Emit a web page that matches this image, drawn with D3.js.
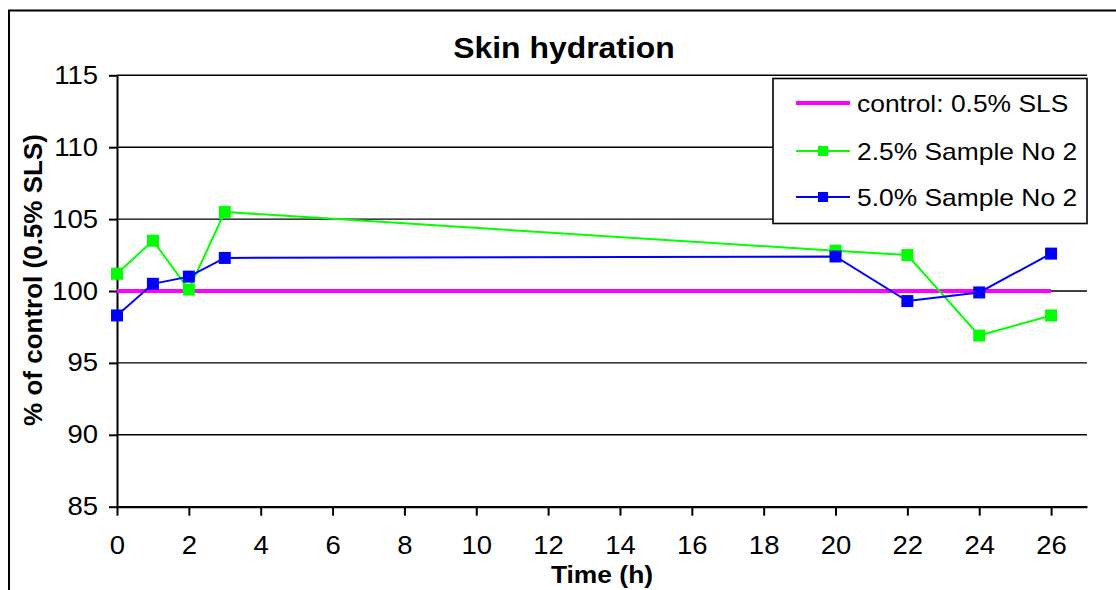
<!DOCTYPE html>
<html>
<head>
<meta charset="utf-8">
<script src="https://cdnjs.cloudflare.com/ajax/libs/d3/7.8.5/d3.min.js"></script>
<style>
  body { margin: 0; background: #fff; }
  text { font-family: "Liberation Sans", Arial, sans-serif; fill: #000; }
</style>
</head>
<body>
<div id="chart"></div>
<script>
// time points (h)
var times = [0, 1, 2, 3, 20, 22, 24, 26];
// % of control
var control = [100, 100, 100, 100, 100, 100, 100, 100];
var sample25 = [101.2, 103.5, 100.1, 105.5, 102.8, 102.5, 96.9, 98.3];
var sample50 = [98.3, 100.5, 101.0, 102.3, 102.4, 99.3, 99.9, 102.6];

var xTicks = [0, 2, 4, 6, 8, 10, 12, 14, 16, 18, 20, 22, 24, 26];
var yTicks = [85, 90, 95, 100, 105, 110, 115];

var seriesNames = ["control: 0.5% SLS", "2.5% Sample No 2", "5.0% Sample No 2"];

var W = 1116, H = 590;
var plotL = 117, plotR = 1087, plotT = 75.3, plotB = 506.7;

var svg = d3.select("#chart").append("svg")
    .attr("width", W)
    .attr("height", H);

// the glyphs in the picture are a bit wider than they are tall
function stretch(sel, k) {
  sel.each(function(){
    var len = this.getComputedTextLength();
    d3.select(this).attr("textLength", len * k).attr("lengthAdjust", "spacingAndGlyphs");
  });
}

// outer chart border (runs off the right and bottom of the picture)
svg.append("rect")
    .attr("x", 9).attr("y", 10.5)
    .attr("width", W + 20).attr("height", H + 20)
    .attr("fill", "#fff")
    .attr("stroke", "#000")
    .attr("stroke-width", 2);

var x = d3.scaleLinear().domain([0, 27]).range([plotL, plotR]);
var y = d3.scaleLinear().domain([85, 115]).range([plotB, plotT]);

// gridlines
svg.append("g").selectAll("line")
    .data(yTicks)
    .enter().append("line")
    .attr("x1", plotL).attr("x2", plotR)
    .attr("y1", function(d){ return y(d); })
    .attr("y2", function(d){ return y(d); })
    .attr("stroke", "#000")
    .attr("stroke-width", 1.4);

var yAxis = svg.append("g")
    .attr("transform", "translate(" + plotL + ",0)")
    .call(d3.axisLeft(y).tickValues(yTicks).tickSize(8).tickSizeOuter(0).tickPadding(11));

var xAxis = svg.append("g")
    .attr("transform", "translate(0," + plotB + ")")
    .call(d3.axisBottom(x).tickValues(xTicks).tickSize(9).tickSizeOuter(0).tickPadding(21));

[yAxis, xAxis].forEach(function(a){
  a.select(".domain").attr("stroke", "#000").attr("stroke-width", 2);
  a.selectAll(".tick line").attr("stroke", "#000").attr("stroke-width", 2);
  a.selectAll(".tick text")
      .style("font-family", "'Liberation Sans', Arial, sans-serif")
      .style("font-size", "25px")
      .attr("fill", "#000");
  stretch(a.selectAll(".tick text"), 1.1);
});

// lines
var line = d3.line()
    .x(function(d){ return x(d[0]); })
    .y(function(d){ return y(d[1]); });

function pairs(vals) {
  return times.map(function(t, i){ return [t, vals[i]]; });
}

svg.append("path")
    .datum(pairs(control))
    .attr("d", line)
    .attr("fill", "none")
    .attr("stroke", "#ff00ff")
    .attr("stroke-width", 4);

var ms = 12;
[[sample25, "#00ff00"], [sample50, "#0000ff"]].forEach(function(s){
  var g = svg.append("g");
  g.append("path")
      .datum(pairs(s[0]))
      .attr("d", line)
      .attr("fill", "none")
      .attr("stroke", s[1])
      .attr("stroke-width", 2);
  g.selectAll("rect")
      .data(pairs(s[0]))
      .enter().append("rect")
      .attr("x", function(d){ return x(d[0]) - ms / 2; })
      .attr("y", function(d){ return y(d[1]) - ms / 2; })
      .attr("width", ms).attr("height", ms)
      .attr("fill", s[1]);
});

// title
var title = svg.append("text")
    .attr("x", 564).attr("y", 58)
    .attr("text-anchor", "middle")
    .style("font-size", "29px")
    .style("font-weight", "bold")
    .text("Skin hydration");
stretch(title, 1.1);

// axis titles
var xt = svg.append("text")
    .attr("x", (plotL + plotR) / 2).attr("y", 583)
    .attr("text-anchor", "middle")
    .style("font-size", "24px")
    .style("font-weight", "bold")
    .text("Time (h)");
stretch(xt, 1.1);

svg.append("text")
    .attr("transform", "translate(42," + 280 + ") rotate(-90)")
    .attr("text-anchor", "middle")
    .style("font-size", "26px")
    .style("font-weight", "bold")
    .text("% of control (0.5% SLS)");

// legend
var lg = svg.append("g");
lg.append("rect")
    .attr("x", 773).attr("y", 78.5)
    .attr("width", 314).attr("height", 145)
    .attr("fill", "#fff")
    .attr("stroke", "#000")
    .attr("stroke-width", 1.6);

var legendColors = ["#ff00ff", "#00ff00", "#0000ff"];
var rowY = [103, 151, 197];
seriesNames.forEach(function(name, i){
  lg.append("line")
      .attr("x1", 796).attr("x2", 850)
      .attr("y1", rowY[i]).attr("y2", rowY[i])
      .attr("stroke", legendColors[i])
      .attr("stroke-width", i === 0 ? 4 : 2);
  if (i > 0) {
    lg.append("rect")
        .attr("x", 818).attr("y", rowY[i] - 5)
        .attr("width", 10).attr("height", 10)
        .attr("fill", legendColors[i]);
  }
  var t = lg.append("text")
      .attr("x", 857).attr("y", rowY[i])
      .attr("dy", "0.36em")
      .style("font-size", "24px")
      .text(name);
  stretch(t, 1.1);
});
</script>
</body>
</html>
